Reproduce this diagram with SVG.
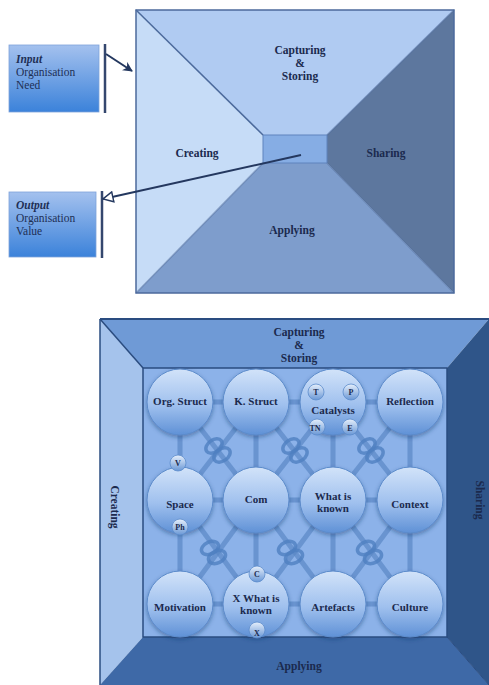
<svg xmlns="http://www.w3.org/2000/svg" width="489" height="685" viewBox="0 0 489 685">
<defs>
<linearGradient id="boxg" x1="0" y1="0" x2="0" y2="1">
<stop offset="0" stop-color="#a4c1ee"/><stop offset="1" stop-color="#3b82da"/>
</linearGradient>
<linearGradient id="cg" x1="0" y1="0" x2="0" y2="1">
<stop offset="0" stop-color="#d2e3f9"/><stop offset="0.55" stop-color="#9fc0ee"/><stop offset="1" stop-color="#5f91d6"/>
</linearGradient>
<linearGradient id="sg" x1="0" y1="0" x2="0" y2="1">
<stop offset="0" stop-color="#e6effb"/><stop offset="1" stop-color="#6a98d6"/>
</linearGradient>
<filter id="sh" x="-30%" y="-30%" width="160%" height="160%">
<feDropShadow dx="0" dy="2" stdDeviation="2" flood-color="#1e3a6a" flood-opacity="0.45"/>
</filter>
<marker id="ah" viewBox="0 0 10 10" refX="9" refY="5" markerWidth="10" markerHeight="10" markerUnits="userSpaceOnUse" orient="auto">
<path d="M0,0 L10,5 L0,10 L3,5 z" fill="#24385f"/>
</marker>
<marker id="ao" viewBox="0 0 12 12" refX="11" refY="6" markerWidth="12" markerHeight="12" markerUnits="userSpaceOnUse" orient="auto">
<path d="M1,1 L11,6 L1,11 z" fill="#ffffff" stroke="#24385f" stroke-width="1.5"/>
</marker>
</defs>
<style>
.lbl{font-family:"Liberation Serif",serif;font-weight:bold;fill:#1b2a4e;text-anchor:middle}
.t11{font-size:11.5px}
.t10{font-size:11px}
.tb{font-size:11.5px}
.t8{font-size:8px}
.bx{font-family:"Liberation Serif",serif;font-size:11.5px;fill:#1e2f55}
.edge{stroke:#4c6a9c;stroke-width:1.5;fill:none}
.lat{stroke:#5a87c5;stroke-width:5;stroke-opacity:0.7;fill:none}
.knot{stroke:#4f7fc0;stroke-width:3.5;fill:none;stroke-opacity:0.8}
.circ{fill:url(#cg);stroke:#5c8bcb;stroke-width:1}
.sc{fill:url(#sg);stroke:#5c8bcb;stroke-width:0.8}
</style>
<rect width="489" height="685" fill="#ffffff"/>

<!-- Top diagram -->
<g id="top-diagram">
<polygon points="136,10 454,10 327,135 263,135" fill="#b0cbf2"/>
<polygon points="136,10 263,135 263,163 136,293" fill="#c6dcf7"/>
<polygon points="454,10 454,293 327,163 327,135" fill="#5d779e"/>
<polygon points="136,293 263,163 327,163 454,293" fill="#7e9dcc"/>
<rect x="263" y="135" width="64" height="28" fill="#86ade4" stroke="#5f83bd" stroke-width="1"/>
<rect x="136" y="10" width="318" height="283" class="edge"/>
<line x1="136" y1="10" x2="263" y2="135" class="edge"/>
<line x1="454" y1="10" x2="327" y2="135" class="edge" stroke-opacity="0.6"/>
<line x1="136" y1="293" x2="263" y2="163" class="edge" stroke-opacity="0.5"/>
<line x1="454" y1="293" x2="327" y2="163" class="edge" stroke-opacity="0.5"/>
<text class="lbl t11" x="300" y="54">Capturing</text>
<text class="lbl t11" x="300" y="67">&amp;</text>
<text class="lbl t11" x="300" y="80">Storing</text>
<text class="lbl t11" x="197" y="157">Creating</text>
<text class="lbl t11" x="386" y="157">Sharing</text>
<text class="lbl t11" x="292" y="234">Applying</text>
</g>

<g id="input-box">
<rect x="9" y="45" width="90" height="67" fill="url(#boxg)" stroke="#7ea2da" stroke-width="0.8"/>
<line x1="105" y1="44" x2="105" y2="113" stroke="#34476e" stroke-width="2.5"/>
<text class="bx" x="16" y="63"><tspan font-weight="bold" font-style="italic">Input</tspan></text>
<text class="bx" x="16" y="76">Organisation</text>
<text class="bx" x="16" y="89">Need</text>
</g>

<g id="output-box">
<rect x="9" y="192" width="87" height="65" fill="url(#boxg)" stroke="#7ea2da" stroke-width="0.8"/>
<line x1="102" y1="191" x2="102" y2="258" stroke="#34476e" stroke-width="2.5"/>
<text class="bx" x="16" y="209"><tspan font-weight="bold" font-style="italic">Output</tspan></text>
<text class="bx" x="16" y="222">Organisation</text>
<text class="bx" x="16" y="235">Value</text>
</g>

<g id="connectors">
<line x1="106" y1="54" x2="132" y2="71" stroke="#24385f" stroke-width="2" marker-end="url(#ah)"/>
<line x1="301" y1="155" x2="103" y2="199" stroke="#24385f" stroke-width="2" marker-end="url(#ao)"/>
</g>

<!-- Bottom diagram -->
<g id="bottom-frame">
<polygon points="100,319 489,319 447,368 143,368" fill="#6f9ad6"/>
<polygon points="100,319 143,368 143,637 100,685" fill="#a5c3ec"/>
<polygon points="489,319 489,685 447,637 447,368" fill="#2f5589"/>
<polygon points="100,685 143,637 447,637 489,685" fill="#3e69a7"/>
<rect x="143" y="368" width="304" height="269" fill="#8cb2e9"/>
<line x1="100" y1="319" x2="489" y2="319" stroke="#2a4c80" stroke-width="2"/>
<line x1="100" y1="319" x2="100" y2="685" stroke="#2a4c80" stroke-width="1.5"/>
<line x1="100" y1="319" x2="143" y2="368" stroke="#2a4c80" stroke-width="1.5"/>
<rect x="143" y="368" width="304" height="269" fill="none" stroke="#2a4c80" stroke-width="1.5"/>
<line x1="447" y1="637" x2="489" y2="685" stroke="#2a4c80" stroke-width="1"/>
<text class="lbl tb" x="299" y="336">Capturing</text>
<text class="lbl tb" x="299" y="349">&amp;</text>
<text class="lbl tb" x="299" y="362">Storing</text>
<text class="lbl tb" x="299" y="670">Applying</text>
<text class="lbl tb" transform="translate(111,507) rotate(90)">Creating</text>
<text class="lbl tb" transform="translate(476,500) rotate(90)">Sharing</text>
</g>

<g id="lattice">
<line class="lat" x1="180" y1="402" x2="180" y2="604"/>
<line class="lat" x1="256" y1="402" x2="256" y2="604"/>
<line class="lat" x1="333" y1="402" x2="333" y2="604"/>
<line class="lat" x1="410" y1="402" x2="410" y2="604"/>
<line class="lat" x1="180" y1="402" x2="410" y2="402"/>
<line class="lat" x1="180" y1="500" x2="410" y2="500"/>
<line class="lat" x1="180" y1="604" x2="410" y2="604"/>
<line class="lat" x1="180" y1="402" x2="256" y2="500"/>
<line class="lat" x1="256" y1="402" x2="180" y2="500"/>
<line class="lat" x1="256" y1="402" x2="333" y2="500"/>
<line class="lat" x1="333" y1="402" x2="256" y2="500"/>
<line class="lat" x1="333" y1="402" x2="410" y2="500"/>
<line class="lat" x1="410" y1="402" x2="333" y2="500"/>
<line class="lat" x1="180" y1="500" x2="256" y2="604"/>
<line class="lat" x1="256" y1="500" x2="180" y2="604"/>
<line class="lat" x1="256" y1="500" x2="333" y2="604"/>
<line class="lat" x1="333" y1="500" x2="256" y2="604"/>
<line class="lat" x1="333" y1="500" x2="410" y2="604"/>
<line class="lat" x1="410" y1="500" x2="333" y2="604"/>
<g class="knot">
<ellipse cx="214" cy="446" rx="9" ry="6" transform="rotate(-35 214 446)"/>
<ellipse cx="222" cy="455" rx="9" ry="6" transform="rotate(-35 222 455)"/>
<ellipse cx="291" cy="446" rx="9" ry="6" transform="rotate(-35 291 446)"/>
<ellipse cx="299" cy="455" rx="9" ry="6" transform="rotate(-35 299 455)"/>
<ellipse cx="367" cy="446" rx="9" ry="6" transform="rotate(-35 367 446)"/>
<ellipse cx="375" cy="455" rx="9" ry="6" transform="rotate(-35 375 455)"/>
<ellipse cx="210" cy="548" rx="9" ry="6" transform="rotate(-25 210 548)"/>
<ellipse cx="217" cy="557" rx="9" ry="6" transform="rotate(-25 217 557)"/>
<ellipse cx="287" cy="548" rx="9" ry="6" transform="rotate(-25 287 548)"/>
<ellipse cx="294" cy="557" rx="9" ry="6" transform="rotate(-25 294 557)"/>
<ellipse cx="366" cy="548" rx="9" ry="6" transform="rotate(-25 366 548)"/>
<ellipse cx="373" cy="557" rx="9" ry="6" transform="rotate(-25 373 557)"/>
</g>
</g>

<g id="org-struct"><circle class="circ" cx="180" cy="402" r="33" filter="url(#sh)"/><text class="lbl t10" x="180" y="405">Org. Struct</text></g>
<g id="k-struct"><circle class="circ" cx="256" cy="402" r="33" filter="url(#sh)"/><text class="lbl t10" x="256" y="405">K. Struct</text></g>
<g id="catalysts"><circle class="circ" cx="333" cy="402" r="33" filter="url(#sh)"/><text class="lbl t10" x="333" y="414">Catalysts</text>
<circle class="sc" cx="316" cy="392" r="8"/><text class="lbl t8" x="316" y="395">T</text>
<circle class="sc" cx="351" cy="392" r="8"/><text class="lbl t8" x="351" y="395">P</text>
<circle class="sc" cx="317" cy="427" r="8"/><text class="lbl t8" x="315" y="431">TN</text>
<circle class="sc" cx="350" cy="427" r="8"/><text class="lbl t8" x="350" y="431">E</text>
</g>
<g id="reflection"><circle class="circ" cx="410" cy="402" r="33" filter="url(#sh)"/><text class="lbl t10" x="410" y="405">Reflection</text></g>

<g id="space"><circle class="circ" cx="180" cy="500" r="33" filter="url(#sh)"/><text class="lbl t10" x="180" y="508">Space</text>
<circle class="sc" cx="178" cy="463" r="8"/><text class="lbl t8" x="178" y="466">V</text>
<circle class="sc" cx="180" cy="527" r="8"/><text class="lbl t8" x="180" y="530">Ph</text>
</g>
<g id="com"><circle class="circ" cx="256" cy="500" r="33" filter="url(#sh)"/><text class="lbl t10" x="256" y="503">Com</text></g>
<g id="what-is-known"><circle class="circ" cx="333" cy="500" r="33" filter="url(#sh)"/><text class="lbl t10" x="333" y="500">What is</text><text class="lbl t10" x="333" y="512">known</text></g>
<g id="context"><circle class="circ" cx="410" cy="500" r="33" filter="url(#sh)"/><text class="lbl t10" x="410" y="508">Context</text></g>

<g id="motivation"><circle class="circ" cx="180" cy="604" r="33" filter="url(#sh)"/><text class="lbl t10" x="180" y="611">Motivation</text></g>
<g id="x-what-is-known"><circle class="circ" cx="256" cy="604" r="33" filter="url(#sh)"/><text class="lbl t10" x="256" y="602">X What is</text><text class="lbl t10" x="256" y="614">known</text>
<circle class="sc" cx="257" cy="574" r="8"/><text class="lbl t8" x="257" y="577">C</text>
<circle class="sc" cx="257" cy="630" r="8"/><text class="lbl t8" x="257" y="636">X</text>
</g>
<g id="artefacts"><circle class="circ" cx="333" cy="604" r="33" filter="url(#sh)"/><text class="lbl t10" x="333" y="611">Artefacts</text></g>
<g id="culture"><circle class="circ" cx="410" cy="604" r="33" filter="url(#sh)"/><text class="lbl t10" x="410" y="611">Culture</text></g>
</svg>
